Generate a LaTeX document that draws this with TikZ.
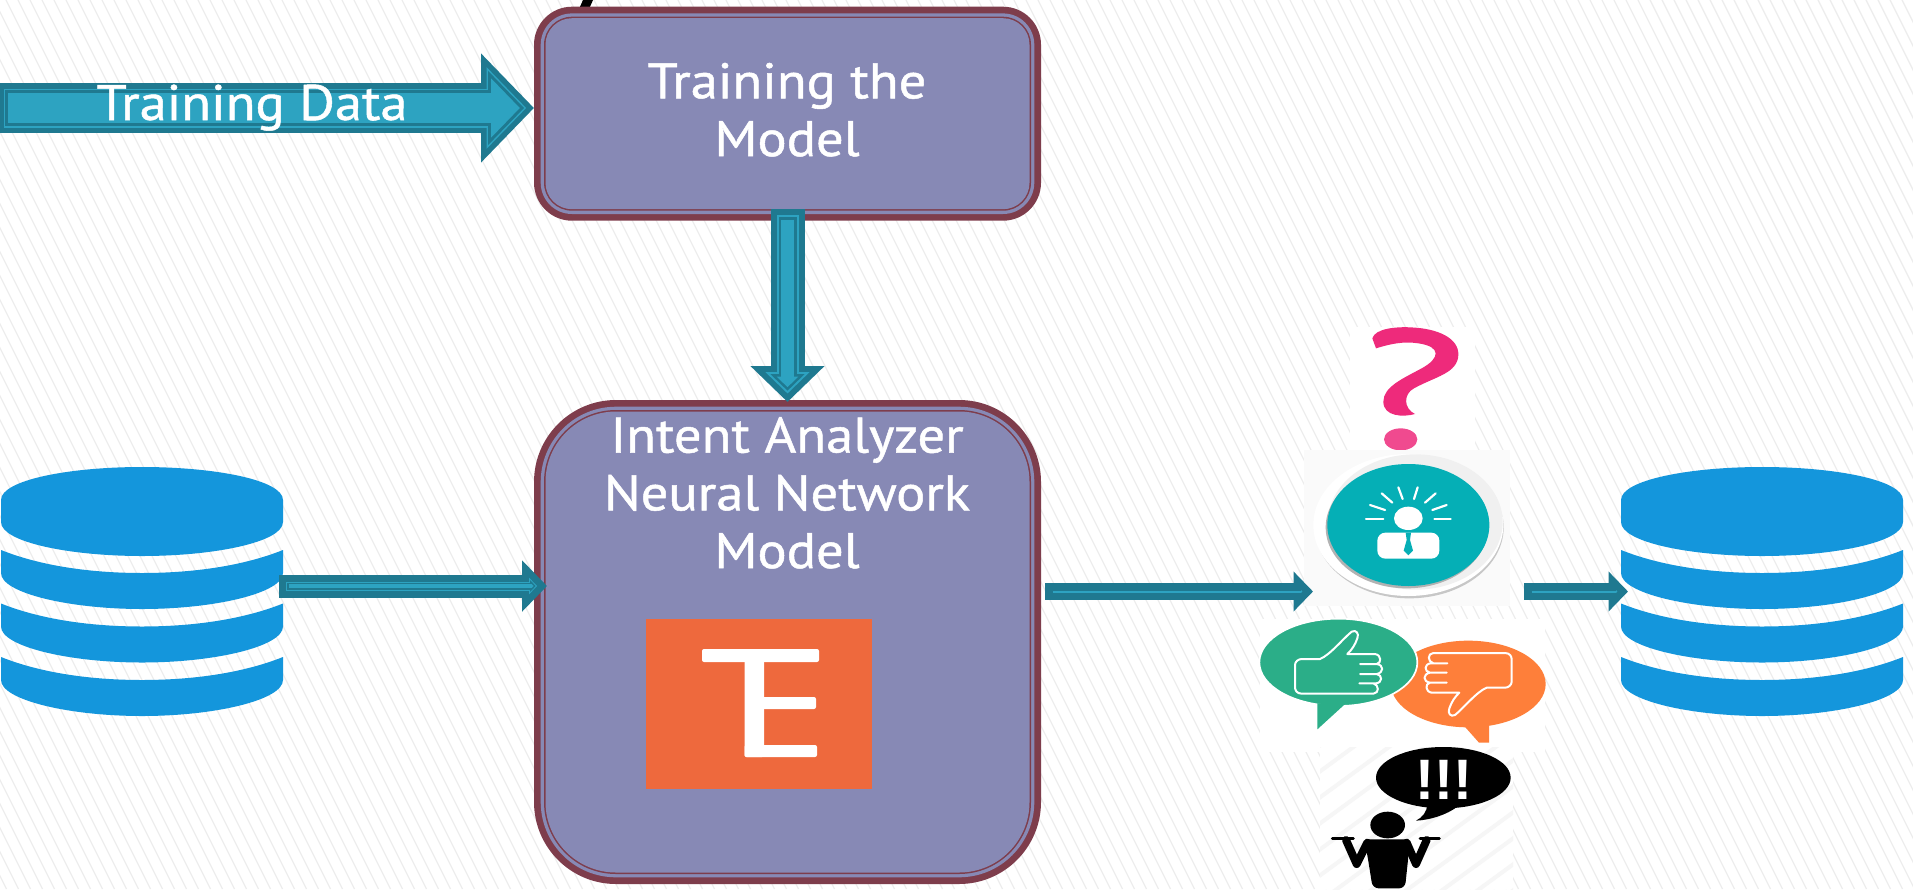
\documentclass[tikz,border=0pt]{standalone}
\usepackage{fontspec}
\setmainfont{PT Sans}[FakeStretch=1.09,FakeBold=1]
\newfontfamily\bangfont{Liberation Sans}
\usetikzlibrary{calc,arrows.meta}
\definecolor{boxbrown}{HTML}{7E3D4C}
\definecolor{boxfill}{HTML}{8789B5}
\definecolor{arrowdark}{HTML}{1F7990}
\definecolor{arrowlight}{HTML}{2DA3C1}
\definecolor{dbblue}{HTML}{1496DC}
\definecolor{stripe}{HTML}{EDEDED}
\definecolor{logoorange}{HTML}{EE693D}
\definecolor{qpink}{HTML}{EE2A7B}
\definecolor{iconteal}{HTML}{05AFB6}
\definecolor{thumbgreen}{HTML}{2BAE88}
\definecolor{thumborange}{HTML}{FE7F3A}
\tikzset{
  panelshape/.style={rectangle,inner sep=0pt,outer sep=0pt},
  lab/.style={text=white,font=\fontsize{50}{57.7}\selectfont,align=center,inner sep=0pt,anchor=base},
  handline/.style={draw=white,line width=2pt,line join=round},
}
% nested rounded panel: name, centre x, centre y, width, height, radius
\newcommand\panel[6]{%
  \node[panelshape,fill=boxbrown,minimum width=#4pt,minimum height=#5pt,rounded corners=#6pt] (#1) at (#2,#3) {};
  \foreach \ins/\cc in {6.7/boxfill,10/boxbrown,11.5/boxfill}{%
    \pgfmathsetmacro\pw{#4-2*\ins}\pgfmathsetmacro\ph{#5-2*\ins}\pgfmathsetmacro\pr{#6-\ins}
    \node[panelshape,fill=\cc,minimum width=\pw pt,minimum height=\ph pt,rounded corners=\pr pt] at (#2,#3) {};
  }%
}
% block arrow: from, to, shaft half width, head half width, list of inset/colour layers
\newcommand\blockarrow[5]{%
  \foreach \dd/\cc in {#5}{%
    \pgfmathsetmacro\lw{2*(#3-\dd)}
    \pgfmathsetmacro\hw{2*(#4-2.414*\dd)}
    \pgfmathsetmacro\hl{#4-2.414*\dd}
    \pgfmathsetmacro\sa{\dd}
    \pgfmathsetmacro\sb{1.414*\dd}
    \edef\doarrow{\noexpand\draw[\cc,line width=\lw pt,-{Triangle[length=\hl pt,width=\hw pt]},shorten <=\sa pt,shorten >=\sb pt] (#1) -- (#2);}
    \doarrow
  }%
}
% database icon with its left edge at x = #1
\newcommand\dbicon[1]{%
  \begin{scope}[xshift=#1pt]
    \fill[dbblue] (0,500) .. controls (0,480) and (68,467) .. (141,467) .. controls (214,467) and (282,480) .. (282,500) -- (282,522)
      .. controls (282,542) and (214,556) .. (141,556) .. controls (68,556) and (0,542) .. (0,522) -- cycle;
    \foreach \yy in {0,53.5,107}{%
      \fill[dbblue,yshift=-\yy pt] (0,550) .. controls (40,566) and (90,573) .. (141,573) .. controls (192,573) and (242,566) .. (282,550) -- (282,573)
        .. controls (282,593) and (214,609) .. (141,609) .. controls (68,609) and (0,593) .. (0,573) -- cycle;
    }
  \end{scope}
}
\newcommand\handpath{(215,177) -- (270,177) .. controls (300,165) and (340,115) .. (365,95) .. controls (378,88) and (388,100) .. (382,115) .. controls (375,135) and (365,150) .. (352,162) -- (435,162) .. controls (455,165) and (455,190) .. (440,192) -- (390,192) -- (440,192) .. controls (462,195) and (462,218) .. (440,222) -- (390,222) -- (440,222) .. controls (458,225) and (458,248) .. (438,250) -- (388,250) -- (430,250) .. controls (448,255) and (448,280) .. (430,281) -- (215,281) .. controls (200,281) and (195,270) .. (195,262) -- (195,195) .. controls (195,185) and (205,177) .. (215,177) -- cycle}
\begin{document}
\begin{tikzpicture}[x=1pt,y=-1pt]
\useasboundingbox (0,0) rectangle (1913,889);
\clip (0,0) rectangle (1913,889);
\fill[white] (0,0) rectangle (1913,889);
% background stripes
\foreach \xx in {-450,-438,...,1913}{\draw[stripe,line width=1.3pt] (\xx,0) -- ({\xx+444.5},889);}
% top fragment
\fill[black] (583,0) -- (593,0) -- (589,9) -- (579,9) -- cycle;
% panels
\panel{train}{787.5}{113.7}{507}{214}{38}
\panel{model}{787.5}{642}{507}{484}{82}
% logo
\node[panelshape,fill=logoorange,minimum width=226.5pt,minimum height=170pt] (logo) at (758.75,704) {};
\fill[white,rounded corners=2pt] (702,649) rectangle (819,662);
\fill[white,rounded corners=2pt] (744.5,649) rectangle (764,757);
\fill[white,rounded corners=2pt] (760,697) rectangle (816,709);
\fill[white,rounded corners=2pt] (744.5,745) rectangle (817,757);
% labels
\node[lab] (trainlabel) at (787,156) {Training the\\Model};
\node[lab] (modellabel) at (787,568) {Intent Analyzer\\Neural Network\\Model};
% databases
\dbicon{1}
\dbicon{1621}
\node[panelshape,minimum width=282pt,minimum height=248pt] (db1) at (142,591) {};
\node[panelshape,minimum width=282pt,minimum height=248pt] (db2) at (1762,591) {};
% question mark picture
\node[panelshape,fill=white,minimum width=125pt,minimum height=123pt] (question) at (1412.5,388.5) {};
\begin{scope}[shift={(1340,320)},scale=1/3]
  \fill[qpink] (97,55) .. controls (105,25) and (170,20) .. (210,22) .. controls (295,25) and (357,55) .. (355,105) .. controls (353,160) and (285,170) .. (222,205) .. controls (190,222) and (190,265) .. (225,282) .. controls (190,292) and (130,290) .. (130,245) .. controls (130,200) and (190,175) .. (245,145) .. controls (300,115) and (305,80) .. (235,70) .. controls (190,63) and (150,72) .. (108,85) -- cycle;
  \fill[qpink!85!white] (182,358) ellipse [x radius=50,y radius=33];
\end{scope}
% analyst picture
\node[panelshape,fill=black!2,minimum width=206pt,minimum height=156pt] (icon) at (1407,528) {};
\begin{scope}[shift={(1230,300)},scale=1/3]
  \fill[black!22] (538,682) ellipse [x radius=283,y radius=213];
  \fill[white] (535,675) ellipse [x radius=285,y radius=213];
  \fill[black!6] (556,666) ellipse [x radius=262,y radius=203];
  \fill[black!30] (530,682) ellipse [x radius=243,y radius=183];
  \fill[iconteal] (535,675) ellipse [x radius=243,y radius=183];
  \fill[white] (535,655) ellipse [x radius=43,y radius=35];
  \fill[white,rounded corners=8pt] (442,698) rectangle (628,776);
  \fill[iconteal] (527,698) -- (543,698) -- (540,720) -- (549,752) -- (535,766) -- (521,752) -- (530,720) -- cycle;
  \foreach \ax/\ay/\bx/\by in {408/657/460/657,420/615/465/630,455/580/487/608,505/562/518/597,563/562/552/597,617/580/585/608,650/615/607/630,613/657/662/657}{%
    \draw[white,line width=2.2pt,line cap=round] (\ax,\ay) -- (\bx,\by);}
\end{scope}
% thumbs picture
\node[panelshape,fill=white,minimum width=285pt,minimum height=133pt] (thumbs) at (1402.5,685) {};
\begin{scope}[shift={(1230,600)},scale=1/3]
  \fill[thumborange] (715,252) ellipse [x radius=232,y radius=130];
  \fill[thumborange] (700,375) -- (747,428) -- (777,428) -- (777,375) -- cycle;
  \filldraw[fill=thumbgreen,draw=white,line width=1.7pt] (325,187) ellipse [x radius=237,y radius=131];
  \fill[thumbgreen] (262,310) -- (262,388) -- (342,315) -- cycle;
  \draw[handline] \handpath;
  \begin{scope}[rotate around={180:(520,220)}]
    \draw[handline] \handpath;
  \end{scope}
\end{scope}
% shrug picture
\node[panelshape,fill=white,minimum width=193pt,minimum height=142pt] (shrug) at (1416.5,818) {};
\begin{scope}
  \clip (shrug.north west) rectangle (shrug.south east);
  \foreach \ss in {0,26,...,286}{\draw[black!3.5,line width=4pt] (1300,{760+\ss}) -- (1530,{592+\ss});}
\end{scope}
\begin{scope}[shift={(1310,740)},scale=1/3]
  \fill[black] (400,113) ellipse [x radius=202,y radius=92];
  \fill[black] (352,195) .. controls (350,215) and (338,232) .. (318,242) .. controls (360,240) and (410,225) .. (445,198) -- cycle;
  \fill[black] (233,255) ellipse [x radius=52,y radius=40];
  \fill[black,rounded corners=6pt] (162,298) -- (300,298) -- (296,340) -- (285,445) -- (188,445) -- (172,345) -- cycle;
  \draw[black,line width=8pt,line cap=round,line join=round] (108,300) -- (140,372) -- (172,308);
  \draw[black,line width=8pt,line cap=round,line join=round] (350,300) -- (318,372) -- (290,308);
  \draw[black,line width=2.8pt,line cap=round] (67,295) -- (130,295);
  \draw[black,line width=2.8pt,line cap=round] (330,295) -- (388,295);
\end{scope}
\node[text=white,font=\bangfont\bfseries\fontsize{57}{57}\selectfont,inner sep=0pt,anchor=base] (bang) at (1443.7,799) {!!!};
% arrows
\coordinate (tdsrc) at (-2,108);
\coordinate (tdin) at (train.west |- tdsrc);
\coordinate (trainout) at ([yshift=11.7pt]train.south);
\coordinate (modelin) at ([yshift=-2pt]model.north);
\coordinate (dbout) at (279,586);
\coordinate (dbin) at ([xshift=13pt]model.west |- dbout);
\coordinate (modelout) at (1045,591.5);
\coordinate (iconin) at ([xshift=9pt]icon.west |- modelout);
\coordinate (iconout) at (1524,591.5);
\coordinate (db2in) at ([xshift=7pt]db2.west |- iconout);
\blockarrow{tdsrc}{tdin}{25}{53}{0/arrowdark,5.5/arrowlight,7/arrowdark,10/arrowlight}
\blockarrow{trainout}{modelin}{17}{36}{0/arrowdark,6/arrowlight,8/arrowdark,10.5/arrowlight}
\blockarrow{dbout}{dbin}{11.5}{25}{0/arrowdark,7/arrowlight,8/arrowdark,9.5/arrowlight}
\blockarrow{modelout}{iconin}{8.5}{19.5}{0/arrowdark,7.5/arrowlight}
\blockarrow{iconout}{db2in}{8.5}{19.5}{0/arrowdark,7.5/arrowlight}
\node[lab] (tdlabel) at (252,120) {Training Data};
\end{tikzpicture}
\end{document}
